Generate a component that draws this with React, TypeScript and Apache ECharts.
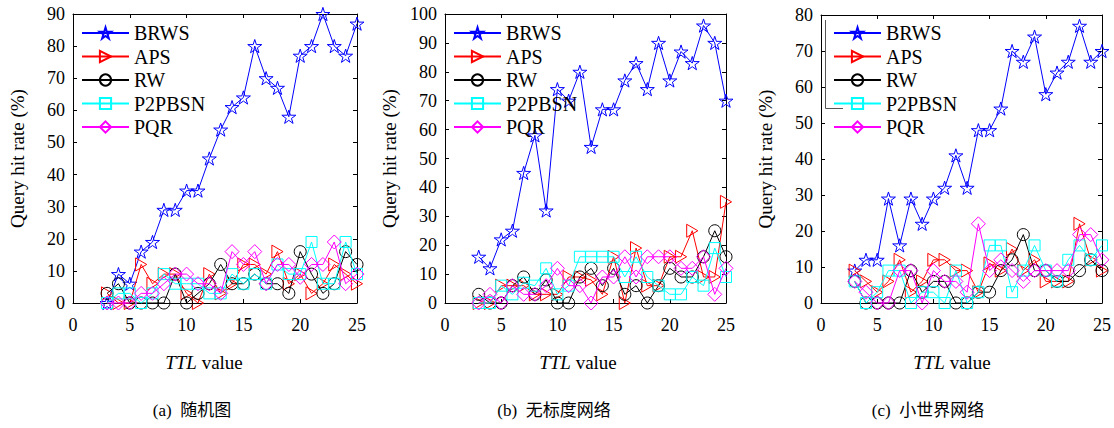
import React, { useEffect, useRef } from "react";
import * as echarts from "echarts";

const ttl = [3, 4, 5, 6, 7, 8, 9, 10, 11, 12, 13, 14, 15, 16, 17, 18, 19, 20, 21, 22, 23, 24, 25];
const seriesNames = ["BRWS", "APS", "RW", "P2PBSN", "PQR"];
const xTickValues = [0, 5, 10, 15, 20, 25];
const yMaxes = [90, 100, 80];
const captions = ["(a)  随机图", "(b)  无标度网络", "(c)  小世界网络"];

// (a) random graph
const brwsA = [0, 9, 6, 16, 19, 29, 29, 35, 35, 45, 54, 61, 64, 80, 70, 67, 58, 77, 80, 90, 80, 77, 87];
const apsA = [3, 0, 0, 12, 6, 9, 9, 3, 0, 9, 3, 6, 12, 12, 9, 16, 6, 9, 3, 6, 12, 9, 6];
const rwA = [3, 6, 0, 0, 0, 0, 9, 0, 3, 6, 12, 6, 6, 9, 6, 6, 3, 16, 9, 3, 6, 16, 12];
const p2pbsnA = [0, 3, 3, 0, 3, 9, 6, 6, 6, 3, 3, 9, 6, 9, 6, 12, 9, 9, 19, 6, 6, 19, 9];
const pqrA = [0, 0, 0, 3, 3, 6, 9, 9, 6, 6, 3, 16, 12, 16, 6, 12, 12, 8, 12, 12, 19, 6, 9];

// (b) scale-free network
const brwsB = [16, 12, 22, 25, 45, 58, 32, 74, 70, 80, 54, 67, 67, 77, 83, 74, 90, 77, 87, 83, 96, 90, 70];
const apsB = [0, 0, 6, 6, 6, 3, 3, 3, 9, 9, 8, 3, 16, 0, 19, 6, 6, 16, 16, 25, 9, 9, 35];
const rwB = [3, 0, 0, 6, 9, 3, 8, 0, 0, 9, 12, 6, 12, 3, 6, 0, 6, 12, 9, 9, 16, 25, 16];
const p2pbsnB = [0, 0, 6, 3, 7, 6, 12, 3, 6, 16, 16, 16, 16, 9, 16, 9, 6, 3, 3, 9, 6, 19, 9];
const pqrB = [0, 3, 0, 6, 3, 3, 6, 12, 6, 6, 0, 9, 9, 16, 9, 16, 16, 16, 12, 12, 16, 3, 12];

// (c) small-world network
const brwsC = [9, 12, 12, 29, 16, 29, 22, 29, 32, 41, 32, 48, 48, 54, 70, 67, 74, 58, 64, 67, 77, 67, 70];
const apsC = [9, 6, 3, 6, 12, 3, 6, 12, 12, 9, 9, 3, 11, 9, 15, 9, 12, 6, 6, 6, 22, 12, 9];
const rwC = [6, 0, 0, 0, 0, 9, 3, 6, 6, 0, 0, 3, 3, 9, 12, 19, 9, 9, 6, 6, 9, 12, 9];
const p2pbsnC = [6, 0, 3, 9, 9, 0, 3, 3, 0, 9, 0, 3, 16, 16, 3, 9, 16, 9, 6, 12, 16, 12, 16];
const pqrC = [6, 3, 0, 0, 9, 9, 0, 9, 6, 6, 3, 22, 9, 12, 9, 6, 9, 9, 9, 9, 19, 19, 12];

const panels = [
  [brwsA, apsA, rwA, p2pbsnA, pqrA],
  [brwsB, apsB, rwB, p2pbsnB, pqrB],
  [brwsC, apsC, rwC, p2pbsnC, pqrC],
];

const colors: Record<string, string> = {
  BRWS: "#0000ff",
  APS: "#ff0000",
  RW: "#000000",
  P2PBSN: "#00ffff",
  PQR: "#ff00ff",
};
const symbols: Record<string, string> = {
  BRWS: "path://M50,0 L61,35 L98,35 L68,57 L79,91 L50,70 L21,91 L32,57 L2,35 L39,35 Z",
  APS: "path://M0,0 L86,50 L0,100 Z",
  RW: "circle",
  P2PBSN: "rect",
  PQR: "diamond",
};
const symbolSizes: Record<string, number> = {
  BRWS: 14,
  APS: 13,
  RW: 12,
  P2PBSN: 11,
  PQR: 14,
};

const FONT = "Liberation Serif";
const CJK = "Liberation Serif, Noto Sans CJK SC";

const gridsPx = [
  { left: 73, top: 14, width: 284, height: 289 },
  { left: 445, top: 14, width: 281, height: 289 },
  { left: 821, top: 15, width: 281, height: 288 },
];
const legendLeft = [81, 453, 833];
const xNameShift = [22, 15, 19];
const captionX = [192, 554, 928];

export default function App() {
  const ref = useRef<HTMLDivElement>(null);
  useEffect(() => {
    if (!ref.current) return;
    const chart = echarts.init(ref.current, null, { renderer: "svg" });

    const grid = gridsPx.map((g) => ({ ...g, containLabel: false, show: false }));
    const xAxis: any[] = [];
    const yAxis: any[] = [];
    gridsPx.forEach((_, k) => {
      xAxis.push({
        type: "value",
        gridIndex: k,
        min: xTickValues[0],
        max: xTickValues[xTickValues.length - 1],
        interval: 5,
        position: "bottom",
        name: "{i|TTL}{r| value}",
        nameLocation: "middle",
        nameGap: 50,
        nameTextStyle: {
          fontFamily: FONT,
          fontSize: 19,
          color: "#000",
          padding: [0, xNameShift[k], 0, 0],
          rich: {
            i: { fontStyle: "italic", fontFamily: FONT, fontSize: 19, color: "#000" },
            r: { fontFamily: FONT, fontSize: 19, color: "#000" },
          },
        },
        axisLine: { show: true, onZero: false, lineStyle: { color: "#000", width: 1 } },
        axisTick: { show: true, inside: true, length: 4, lineStyle: { color: "#000" } },
        axisLabel: { fontFamily: FONT, fontSize: 18, color: "#000", margin: 13 },
        splitLine: { show: false },
      });
      yAxis.push({
        type: "value",
        gridIndex: k,
        min: 0,
        max: yMaxes[k],
        interval: 10,
        position: "left",
        name: "Query hit rate (%)",
        nameLocation: "middle",
        nameGap: 46,
        nameTextStyle: { fontFamily: FONT, fontSize: 19, color: "#000" },
        axisLine: { show: true, onZero: false, lineStyle: { color: "#000", width: 1 } },
        axisTick: { show: true, inside: true, length: 4, lineStyle: { color: "#000" } },
        axisLabel: { fontFamily: FONT, fontSize: 18, color: "#000", margin: 8 },
        splitLine: { show: false },
      });
    });
    gridsPx.forEach((_, k) => {
      xAxis.push({
        type: "value",
        gridIndex: k,
        min: 0,
        max: 25,
        interval: 5,
        position: "top",
        axisLine: { show: true, onZero: false, lineStyle: { color: "#000", width: 1 } },
        axisTick: { show: true, inside: true, length: 4, lineStyle: { color: "#000" } },
        axisLabel: { show: false },
        splitLine: { show: false },
      });
      yAxis.push({
        type: "value",
        gridIndex: k,
        min: 0,
        max: yMaxes[k],
        interval: 10,
        position: "right",
        axisLine: { show: true, onZero: false, lineStyle: { color: "#000", width: 1 } },
        axisTick: { show: true, inside: true, length: 4, lineStyle: { color: "#000" } },
        axisLabel: { show: false },
        splitLine: { show: false },
      });
    });

    const series: any[] = [];
    panels.forEach((vals, k) => {
      seriesNames.forEach((name, i) => {
        const c = colors[name];
        series.push({
          type: "line",
          name,
          xAxisIndex: k,
          yAxisIndex: k,
          data: ttl.map((t, j) => [t, vals[i][j]]),
          symbol: symbols[name],
          symbolSize: symbolSizes[name],
          symbolKeepAspect: true,
          showSymbol: true,
          clip: false,
          lineStyle: { color: c, width: 1 },
          itemStyle: { color: "rgba(255,255,255,0)", borderColor: c, borderWidth: 1 },
          emphasis: { disabled: true },
          z: 2 + i,
        });
      });
    });

    const legend = legendLeft.map((l) => ({
      orient: "vertical",
      left: l,
      top: 23,
      padding: 0,
      itemWidth: 47,
      itemHeight: 14,
      itemGap: 3.5,
      selectedMode: false,
      data: seriesNames,
      textStyle: { fontFamily: FONT, fontSize: 20, color: "#000" },
    }));

    const graphic: any[] = captions.map((t, k) => ({
      type: "text",
      x: captionX[k],
      y: 410,
      style: {
        text: t,
        fontFamily: CJK,
        fontSize: 17,
        fill: "#000",
        align: "center",
        verticalAlign: "middle",
      },
    }));
    graphic.push({
      type: "polyline",
      shape: { points: [[825.5, 20], [825.5, 108.5], [843, 108.5]] },
      style: { stroke: "#555", lineWidth: 1, fill: "none" },
    });

    chart.setOption({
      animation: false,
      backgroundColor: "#ffffff",
      textStyle: { fontFamily: FONT, color: "#000" },
      grid,
      xAxis,
      yAxis,
      series,
      legend,
      graphic,
    });
    return () => chart.dispose();
  }, []);
  return (
    <div
      ref={ref}
      style={{ position: "absolute", left: 0, top: 0, width: 1114, height: 428 }}
    />
  );
}
